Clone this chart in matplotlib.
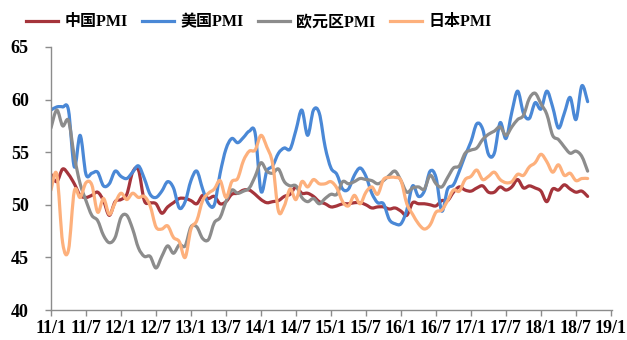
import numpy as np
import matplotlib.pyplot as plt
from matplotlib.path import Path
from matplotlib.patches import PathPatch
from matplotlib.lines import Line2D

# monthly PMI, 2011/01 - 2018/09
china = [52.9, 52.2, 53.4, 52.9, 52.0, 50.9, 50.7, 50.9, 51.2, 50.4, 49.0, 50.3,
         50.5, 51.0, 53.1, 53.3, 50.4, 50.2, 50.1, 49.2, 49.8, 50.2, 50.6, 50.6,
         50.4, 50.1, 50.9, 50.6, 50.8, 50.1, 50.3, 51.0, 51.1, 51.4, 51.4, 51.0,
         50.5, 50.2, 50.3, 50.4, 50.8, 51.0, 51.7, 51.1, 51.1, 50.8, 50.3, 50.1,
         49.8, 49.9, 50.1, 50.1, 50.2, 50.2, 50.0, 49.7, 49.8, 49.8, 49.6, 49.7,
         49.4, 49.0, 50.2, 50.1, 50.1, 50.0, 49.9, 50.4, 50.4, 51.2, 51.7, 51.4,
         51.3, 51.6, 51.8, 51.2, 51.2, 51.7, 51.4, 51.7, 52.4, 51.6, 51.8, 51.6,
         51.3, 50.3, 51.5, 51.4, 51.9, 51.5, 51.2, 51.3, 50.8]

us = [59.0, 59.3, 59.3, 59.0, 53.6, 56.6, 52.9, 53.0, 53.1, 51.8, 52.0, 53.2,
      52.7, 52.5, 53.1, 53.7, 52.5, 51.0, 50.7, 51.3, 52.2, 51.6, 49.7, 50.3,
      52.3, 53.2, 51.5, 50.1, 50.0, 53.0, 55.3, 56.3, 55.9, 56.4, 57.0, 56.8,
      51.3, 53.2, 53.7, 54.9, 55.4, 55.3, 57.1, 59.0, 56.6, 59.0, 58.7, 55.5,
      53.5, 52.9, 51.5, 51.5, 52.8, 53.5, 52.7, 51.1, 50.2, 50.1, 48.6, 48.2,
      48.2, 49.5, 51.8, 50.8, 51.3, 53.2, 52.6, 49.4, 51.5, 51.9, 53.2, 54.7,
      56.0, 57.7, 57.2, 54.8, 54.9, 57.8, 56.3, 58.8, 60.8, 58.7, 58.2, 59.7,
      59.1, 60.8, 59.3, 57.3, 58.7, 60.2, 58.1, 61.3, 59.8]

euro = [57.3, 59.0, 57.5, 58.0, 54.6, 52.0, 50.4, 49.0, 48.5, 47.1, 46.4, 46.9,
        48.8, 49.0, 47.7, 45.9, 45.1, 45.1, 44.0, 45.1, 46.1, 45.4, 46.2, 46.1,
        47.9, 47.9, 46.8, 46.7, 48.3, 48.8, 50.3, 51.4, 51.1, 51.3, 51.6, 52.7,
        54.0, 53.2, 53.0, 53.4, 52.2, 51.8, 51.8, 50.7, 50.3, 50.6, 50.1, 50.6,
        51.0, 51.0, 52.2, 52.0, 52.2, 52.5, 52.4, 52.3, 52.0, 52.3, 52.8, 53.2,
        52.3, 51.2, 51.6, 51.7, 51.5, 52.8, 52.0, 51.7, 52.6, 53.5, 53.7, 54.9,
        55.2, 55.4, 56.2, 56.7, 57.0, 57.4, 56.6, 57.4, 58.1, 58.5, 60.1, 60.6,
        59.6, 58.6, 56.6, 56.2, 55.5, 54.9, 55.1, 54.6, 53.2]

japan = [51.4, 52.9, 46.4, 45.7, 51.3, 50.7, 52.1, 51.9, 49.3, 50.6, 49.1, 50.2,
         51.1, 50.5, 51.1, 50.7, 50.8, 49.9, 47.9, 47.7, 48.0, 46.9, 46.5, 45.0,
         47.7, 48.5, 50.4, 51.1, 51.5, 52.3, 50.7, 52.2, 52.5, 54.2, 55.1, 55.2,
         56.6, 55.5, 53.9, 49.4, 49.9, 51.5, 50.5, 52.2, 51.7, 52.4, 52.0, 52.0,
         52.2, 51.6, 50.3, 49.9, 50.9, 50.1, 51.2, 51.7, 51.0, 52.4, 52.6, 52.6,
         52.3, 50.1, 49.1, 48.2, 47.7, 48.1, 49.3, 49.5, 50.4, 51.4, 51.3, 52.4,
         52.7, 53.3, 52.4, 52.7, 53.1, 52.4, 52.1, 52.2, 52.9, 52.8, 53.6, 54.0,
         54.8, 54.1, 53.1, 53.8, 52.8, 53.0, 52.3, 52.5, 52.5]

names = ["中国PMI", "美国PMI", "欧元区PMI", "日本PMI"]
colors = ["#A5343B", "#4A88D6", "#8C8C8C", "#FDB07C"]
tick_labels = ["11/1", "11/7", "12/1", "12/7", "13/1", "13/7", "14/1", "14/7",
               "15/1", "15/7", "16/1", "16/7", "17/1", "17/7", "18/1", "18/7", "19/1"]

# serif latin text, CJK falls back to Noto
plt.rcParams["font.family"] = ["Liberation Serif", "Noto Sans CJK SC"]
plt.rcParams["font.weight"] = "bold"


def smooth_path(x, y):
    # Catmull-Rom style bezier segments, like a "smoothed line" chart
    pts = np.column_stack([x, y]).astype(float)
    n = len(pts)
    verts = [pts[0]]
    codes = [Path.MOVETO]
    for i in range(n - 1):
        p0 = pts[i - 1] if i > 0 else pts[i]
        p1 = pts[i]
        p2 = pts[i + 1]
        p3 = pts[i + 2] if i + 2 < n else pts[i + 1]
        verts += [p1 + (p2 - p0) / 6, p2 - (p3 - p1) / 6, p2]
        codes += [Path.CURVE4] * 3
    return Path(verts, codes)


fig = plt.figure(figsize=(6.27, 3.4), dpi=100)
ax = fig.add_axes([0.0813, 0.088, 0.895, 0.774])

x = np.arange(len(china))
for vals, c in zip([china, us, euro, japan], colors):
    ax.add_patch(PathPatch(smooth_path(x, vals), facecolor="none",
                           edgecolor=c, lw=2.3, capstyle="round", joinstyle="round"))

ax.set_xlim(0, 96.2)
ax.set_ylim(40, 65)
ax.set_xticks(np.arange(0, 97, 6))
ax.set_xticklabels(tick_labels)
ax.set_yticks(np.arange(40, 66, 5))

for s in ["top", "right"]:
    ax.spines[s].set_visible(False)
for s in ["left", "bottom"]:
    ax.spines[s].set_color("#8C8C8C")
    ax.spines[s].set_linewidth(1.0)
ax.tick_params(axis="both", direction="out", length=4, color="#8C8C8C", width=1.0,
               labelsize=13)
ax.tick_params(axis="x", pad=3)
ax.tick_params(axis="y", pad=12)

handles = [Line2D([], [], color=c, lw=2.3) for c in colors]
fig.legend(handles, names, loc="upper center", bbox_to_anchor=(0.413, 1.0), ncol=4,
           frameon=False, handlelength=2.0, columnspacing=0.9, handletextpad=0.4,
           prop={"weight": "bold", "size": 11.5})

fig.savefig("out.png", dpi=100)
